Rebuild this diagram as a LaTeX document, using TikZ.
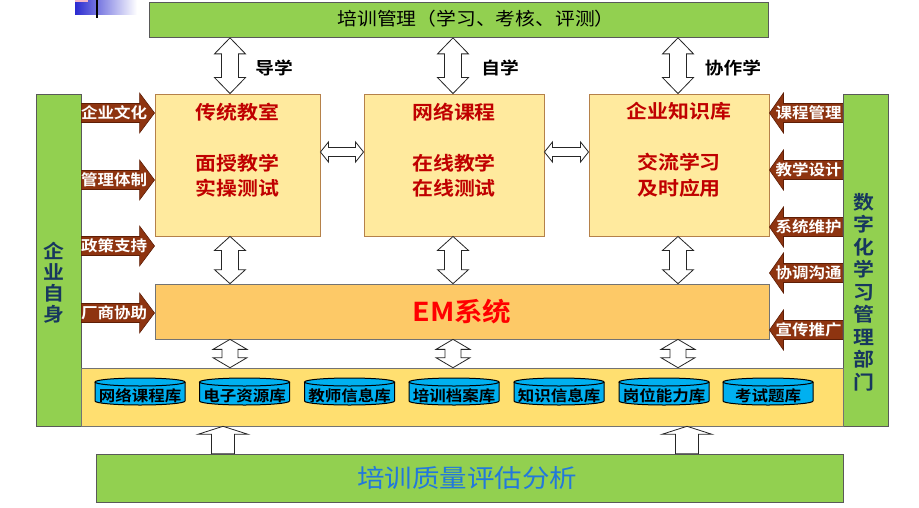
\documentclass[tikz,border=0pt]{standalone}
\usepackage{fontspec}
\usetikzlibrary{calc}
\newfontfamily\cjk{Noto Sans CJK SC}[FakeStretch=1.1]
\newfontfamily\cjkb{Noto Sans CJK SC Bold}[FakeStretch=1.1]
\definecolor{grn}{HTML}{92D050}
\definecolor{ylw}{HTML}{FFEA9E}
\definecolor{boxbrd}{HTML}{B5814A}
\definecolor{emc}{HTML}{FDC967}
\definecolor{bandc}{HTML}{FFDF70}
\definecolor{brn}{HTML}{8E3410}
\definecolor{brnd}{HTML}{5E1E06}
\definecolor{cyn}{HTML}{00B0F0}
\definecolor{navy}{HTML}{17375E}
\definecolor{dred}{HTML}{C00000}
\definecolor{bluet}{HTML}{2278DC}
\definecolor{decob}{HTML}{2B2BD0}
\definecolor{decop}{HTML}{F4B6C8}
% vertical double block arrow: top, bottom, shaft half, head half, head length
\newcommand{\VDArr}[5]{\draw[hollow] let \p1=(#1), \p2=(#2) in
  (\x1,\y1) -- (\x1+#4,\y1-#5) -- (\x1+#3,\y1-#5) -- (\x1+#3,\y2+#5) -- (\x1+#4,\y2+#5)
  -- (\x1,\y2) -- (\x1-#4,\y2+#5) -- (\x1-#3,\y2+#5) -- (\x1-#3,\y1-#5) -- (\x1-#4,\y1-#5) -- cycle;}
% horizontal double block arrow: left, right, shaft half, head half, head length
\newcommand{\HDArr}[5]{\draw[hollow] let \p1=(#1), \p2=(#2) in
  (\x1,\y1) -- (\x1+#5,\y1+#4) -- (\x1+#5,\y1+#3) -- (\x2-#5,\y1+#3) -- (\x2-#5,\y1+#4)
  -- (\x2,\y1) -- (\x2-#5,\y1-#4) -- (\x2-#5,\y1-#3) -- (\x1+#5,\y1-#3) -- (\x1+#5,\y1-#4) -- cycle;}
% upward block arrow: bottom, top, shaft half, head half, head length
\newcommand{\UpArr}[5]{\draw[hollow] let \p1=(#1), \p2=(#2) in
  (\x1-#3,\y1) -- (\x1-#3,\y2-#5) -- (\x1-#4,\y2-#5) -- (\x1,\y2) -- (\x1+#4,\y2-#5)
  -- (\x1+#3,\y2-#5) -- (\x1+#3,\y1) -- cycle;}
% brown block arrow pointing right: start, tip
\newcommand{\BrR}[2]{\draw[brarrow] let \p1=(#1), \p2=(#2) in
  (\x1,\y1+9.5pt) -- (\x2-15pt,\y1+9.5pt) -- (\x2-15pt,\y1+20pt) -- (\x2,\y1)
  -- (\x2-15pt,\y1-20pt) -- (\x2-15pt,\y1-9.5pt) -- (\x1,\y1-9.5pt) -- cycle;}
% brown block arrow pointing left: start, tip
\newcommand{\BrL}[2]{\draw[brarrow] let \p1=(#1), \p2=(#2) in
  (\x1,\y1+9.5pt) -- (\x2+14pt,\y1+9.5pt) -- (\x2+14pt,\y1+20pt) -- (\x2,\y1)
  -- (\x2+14pt,\y1-20pt) -- (\x2+14pt,\y1-9.5pt) -- (\x1,\y1-9.5pt) -- cycle;}
% database cylinder: name, x, label
\newcommand{\dbcyl}[3]{%
  \fill[dbfill] (#2-45,382) -- (#2-45,401) arc[start angle=180,end angle=360,x radius=45pt,y radius=4pt]
     -- (#2+45,382) arc[start angle=0,end angle=180,x radius=45pt,y radius=4pt] -- cycle;
  \draw[dbline] (#2-45,382) -- (#2-45,401) arc[start angle=180,end angle=360,x radius=45pt,y radius=4pt] -- (#2+45,382);
  \draw[dbline] (#2,382) ellipse [x radius=45pt, y radius=4pt];
  \node[dbtxt] (#1) at (#2,396) {#3};}
\begin{document}
\begin{tikzpicture}[x=1pt,y=-1pt,
  gbar/.style={draw=black!65, line width=0.7pt, fill=grn, inner sep=0pt},
  ybox/.style={draw=boxbrd, line width=0.9pt, fill=ylw, inner sep=0pt},
  embox/.style={draw=black!55, line width=0.7pt, fill=emc, inner sep=0pt},
  bandbox/.style={draw=black!55, line width=0.6pt, fill=bandc, inner sep=0pt},
  hollow/.style={draw=black!85, line width=0.8pt, fill=white, line join=miter},
  brarrow/.style={draw=brnd, line width=0.6pt, fill=brn, line join=miter},
  brlbl/.style={text=white, font=\cjkb\fontsize{15}{16}\selectfont, inner sep=0pt},
  boxtxt/.style={text=dred, align=center, font=\cjkb\fontsize{19}{25.5}\selectfont, inner sep=0pt},
  arrlbl/.style={font=\cjkb\fontsize{17}{18}\selectfont, inner sep=0pt},
  vtxt/.style={text=navy, align=center, inner sep=0pt},
  dbtxt/.style={font=\cjkb\fontsize{15}{16}\selectfont, inner sep=0pt},
  dbfill/.style={fill=cyn},
  dbline/.style={draw=black, line width=1pt},
]
\fill[white] (0,0) rectangle (919,507);
\useasboundingbox (0,0) rectangle (919,507);

% slide decoration fragment
\shade[left color=decob, right color=white] (75,0) rectangle (137,14);
\fill[decop] (75,0) rectangle (88,2);
\draw[line width=2pt] (97,0) -- (97,18);

% main blocks
\node[gbar, minimum width=619pt, minimum height=35pt] (top) at (458.5,20) {};
\node[font=\cjk\fontsize{18}{20}\selectfont, inner sep=0pt] (topt) at (476,19) {培训管理（学习、考核、评测）};

\node[gbar, minimum width=45pt, minimum height=332pt] (lbar) at (58.5,260) {};
\node[gbar, minimum width=45pt, minimum height=332pt] (rbar) at (865.5,260) {};
\node[vtxt, font=\cjkb\fontsize{19}{21}\selectfont] (lbt) at (54,283) {企\\业\\自\\身};
\node[vtxt, font=\cjkb\fontsize{19}{22.5}\selectfont] (rbt) at (864,292) {数\\字\\化\\学\\习\\管\\理\\部\\门};

\node[ybox, minimum width=165pt, minimum height=142pt] (b1) at (237.5,165) {};
\node[ybox, minimum width=180pt, minimum height=142pt] (b2) at (454,165) {};
\node[ybox, minimum width=180pt, minimum height=142pt] (b3) at (679,165) {};
\node[boxtxt] (b1t) at (237.5,150) {传统教室\\[25.5pt]面授教学\\实操测试};
\node[boxtxt] (b2t) at (454,150) {网络课程\\[25.5pt]在线教学\\在线测试};
\node[boxtxt] (b3t) at (679,150) {企业知识库\\[25.5pt]交流学习\\及时应用};

\node[embox, minimum width=614pt, minimum height=55pt, text=red, font=\cjkb\fontsize{26}{28}\selectfont] (em) at (462,311.5) {EM系统};

\node[bandbox, minimum width=762pt, minimum height=58pt] (band) at (462,397) {};
\node[gbar, minimum width=747pt, minimum height=48pt] (bot) at (469.5,478) {};
\node[font=\cjk\fontsize{25}{27}\selectfont, text=bluet, inner sep=0pt] (bott) at (467,478) {培训质量评估分析};

% databases
\dbcyl{d1}{140}{网络课程库}
\dbcyl{d2}{244.5}{电子资源库}
\dbcyl{d3}{349.5}{教师信息库}
\dbcyl{d4}{454}{培训档案库}
\dbcyl{d5}{559}{知识信息库}
\dbcyl{d6}{664}{岗位能力库}
\dbcyl{d7}{768}{考试题库}

% arrow columns
\coordinate (k1) at (230,0);
\coordinate (k2) at (453,0);
\coordinate (k3) at (678,0);
\VDArr{top.south -| k1}{b1.north -| k1}{8.5pt}{15.5pt}{16pt}
\VDArr{top.south -| k2}{b2.north -| k2}{8.5pt}{15.5pt}{16pt}
\VDArr{top.south -| k3}{b3.north -| k3}{8.5pt}{15.5pt}{16pt}
\VDArr{b1.south -| k1}{em.north -| k1}{8.5pt}{15.5pt}{14pt}
\VDArr{b2.south -| k2}{em.north -| k2}{8.5pt}{15.5pt}{14pt}
\VDArr{b3.south -| k3}{em.north -| k3}{8.5pt}{15.5pt}{14pt}
\VDArr{em.south -| k1}{band.north -| k1}{8pt}{17pt}{10pt}
\VDArr{em.south -| k2}{band.north -| k2}{8pt}{17pt}{10pt}
\VDArr{em.south -| k3}{band.north -| k3}{8pt}{17pt}{10pt}

\coordinate (hy) at (0,152);
\HDArr{b1.east |- hy}{b2.west |- hy}{4.5pt}{10pt}{8pt}
\HDArr{b2.east |- hy}{b3.west |- hy}{4.5pt}{10pt}{8pt}

\coordinate (u1) at (223,0);
\coordinate (u2) at (687,0);
\UpArr{bot.north -| u1}{band.south -| u1}{11.5pt}{25pt}{8pt}
\UpArr{bot.north -| u2}{band.south -| u2}{11.5pt}{25pt}{8pt}

% arrow labels
\node[arrlbl] (g1) at (274,68) {导学};
\node[arrlbl] (g2) at (500,68) {自学};
\node[arrlbl] (g3) at (733,68) {协作学};

% left brown arrows
\coordinate (l1) at (0,113);
\coordinate (l2) at (0,180);
\coordinate (l3) at (0,246);
\coordinate (l4) at (0,313);
\BrR{lbar.east |- l1}{b1.west |- l1}
\BrR{lbar.east |- l2}{b1.west |- l2}
\BrR{lbar.east |- l3}{b1.west |- l3}
\BrR{lbar.east |- l4}{b1.west |- l4}
\node[brlbl] (lt1) at (114,113) {企业文化};
\node[brlbl] (lt2) at (114,180) {管理体制};
\node[brlbl] (lt3) at (114,246) {政策支持};
\node[brlbl] (lt4) at (114,313) {厂商协助};

% right brown arrows
\coordinate (r1) at (0,113);
\coordinate (r2) at (0,170);
\coordinate (r3) at (0,227);
\coordinate (r4) at (0,273);
\coordinate (r5) at (0,330);
\BrL{rbar.west |- r1}{b3.east |- r1}
\BrL{rbar.west |- r2}{b3.east |- r2}
\BrL{rbar.west |- r3}{b3.east |- r3}
\BrL{rbar.west |- r4}{b3.east |- r4}
\BrL{rbar.west |- r5}{b3.east |- r5}
\node[brlbl] (rt1) at (808.5,113) {课程管理};
\node[brlbl] (rt2) at (808.5,170) {教学设计};
\node[brlbl] (rt3) at (808.5,227) {系统维护};
\node[brlbl] (rt4) at (808.5,273) {协调沟通};
\node[brlbl] (rt5) at (808.5,330) {宣传推广};
\end{tikzpicture}
\end{document}
